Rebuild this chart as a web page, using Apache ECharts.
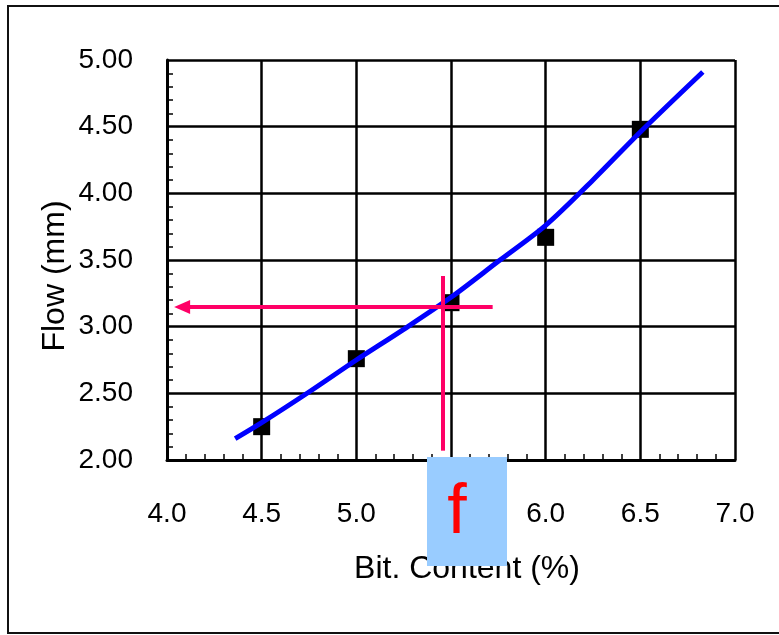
<!DOCTYPE html>
<html>
<head>
<meta charset="utf-8">
<script src="https://cdn.jsdelivr.net/npm/echarts@6/dist/echarts.min.js"></script>
<style>
  html, body { margin: 0; padding: 0; background: #ffffff; }
  #chart { width: 779px; height: 635px; }
</style>
</head>
<body>
<div id="chart"></div>
<script>
// Measured flow at each bitumen content
const bitContent = [4.5, 5.0, 5.5, 6.0, 6.5];
const flowValues = [2.25, 2.76, 3.18, 3.67, 4.48];

// Trend curve through the measurements (bitumen %, flow mm)
const trendX = [4.36, 4.5, 4.75, 5.0, 5.25, 5.5, 5.75, 6.0, 6.25, 6.5, 6.83];
const trendY = [2.16, 2.28, 2.51, 2.75, 2.98, 3.22, 3.49, 3.76, 4.10, 4.46, 4.91];

// Read-off guide: vertical from the design bitumen content, horizontal to the flow axis
const guideX = [5.454, 5.454];
const guideXRange = [2.07, 3.38];
const guideY = [3.148, 3.148];
const guideYRange = [5.72, 4.08];

// Axis ticks
const xTicks = [4.0, 4.5, 5.0, 5.5, 6.0, 6.5, 7.0];
const yTicks = [2.0, 2.5, 3.0, 3.5, 4.0, 4.5, 5.0];

const FONT = '"Liberation Sans", Arial, sans-serif';
const PINK = '#ff0066';

const chart = echarts.init(document.getElementById('chart'), null, { renderer: 'canvas' });

// Minor ticks sit on the plot side of each axis line
const axisCommon = {
  type: 'value',
  axisLine: { show: true, onZero: false, lineStyle: { color: '#000', width: 3 } },
  axisTick: { show: false },
  minorTick: { show: true, splitNumber: 5, length: -6, lineStyle: { color: '#000', width: 1.5 } },
  splitLine: { show: true, lineStyle: { color: '#000', width: 2.5 } },
  minorSplitLine: { show: false }
};

chart.setOption({
  animation: false,
  backgroundColor: '#ffffff',
  grid: { left: 167, top: 60, right: 44, bottom: 175, containLabel: false },
  xAxis: Object.assign({}, axisCommon, {
    min: xTicks[0],
    max: xTicks[xTicks.length - 1],
    interval: 0.5,
    axisLabel: {
      margin: 40,
      color: '#000',
      fontFamily: FONT,
      fontSize: 28,
      formatter: v => v.toFixed(1)
    }
  }),
  yAxis: Object.assign({}, axisCommon, {
    min: yTicks[0],
    max: yTicks[yTicks.length - 1],
    interval: 0.5,
    axisLabel: {
      margin: 34,
      color: '#000',
      fontFamily: FONT,
      fontSize: 28,
      formatter: v => v.toFixed(2)
    }
  }),
  series: [
    {
      name: 'Flow',
      type: 'scatter',
      symbol: 'rect',
      symbolSize: 17,
      itemStyle: { color: '#000', opacity: 1 },
      z: 2,
      data: bitContent.map((x, i) => [x, flowValues[i]])
    },
    {
      name: 'Trend',
      type: 'line',
      smooth: 0.3,
      showSymbol: false,
      symbol: 'none',
      lineStyle: { color: '#0000ff', width: 5 },
      z: 3,
      data: trendX.map((x, i) => [x, trendY[i]])
    },
    {
      name: 'Guide',
      type: 'line',
      data: [],
      z: 4,
      markLine: {
        silent: true,
        animation: false,
        label: { show: false },
        emphasis: { disabled: true },
        lineStyle: { color: PINK, width: 4, type: 'solid' },
        data: [
          [
            { coord: [guideX[0], guideXRange[0]], symbol: 'none' },
            { coord: [guideX[1], guideXRange[1]], symbol: 'none' }
          ],
          [
            { coord: [guideYRange[0], guideY[0]], symbol: 'none' },
            { coord: [guideYRange[1], guideY[1]], symbol: 'triangle', symbolSize: [14, 16] }
          ]
        ]
      }
    }
  ],
  graphic: [
    {
      type: 'rect',
      silent: true,
      shape: { x: 8, y: 6, width: 800, height: 627 },
      style: { fill: null, stroke: '#111', lineWidth: 2 },
      z: 100
    },
    {
      type: 'text',
      silent: true,
      x: 55.5,
      y: 276,
      rotation: Math.PI / 2,
      style: {
        text: 'Flow (mm)',
        fill: '#000',
        font: '32px ' + FONT,
        align: 'center',
        verticalAlign: 'middle'
      },
      z: 100
    },
    {
      type: 'text',
      silent: true,
      x: 467,
      y: 569,
      style: {
        text: 'Bit. Content (%)',
        fill: '#000',
        font: '32px ' + FONT,
        align: 'center',
        verticalAlign: 'middle'
      },
      z: 100
    },
    {
      type: 'rect',
      silent: true,
      shape: { x: 427, y: 457, width: 80, height: 109 },
      style: { fill: '#99ccff' },
      z: 110
    },
    {
      type: 'text',
      silent: true,
      x: 457,
      y: 514,
      style: {
        text: 'f',
        fill: '#ff0000',
        font: '70px ' + FONT,
        align: 'center',
        verticalAlign: 'middle'
      },
      z: 111
    }
  ]
});
</script>
</body>
</html>
